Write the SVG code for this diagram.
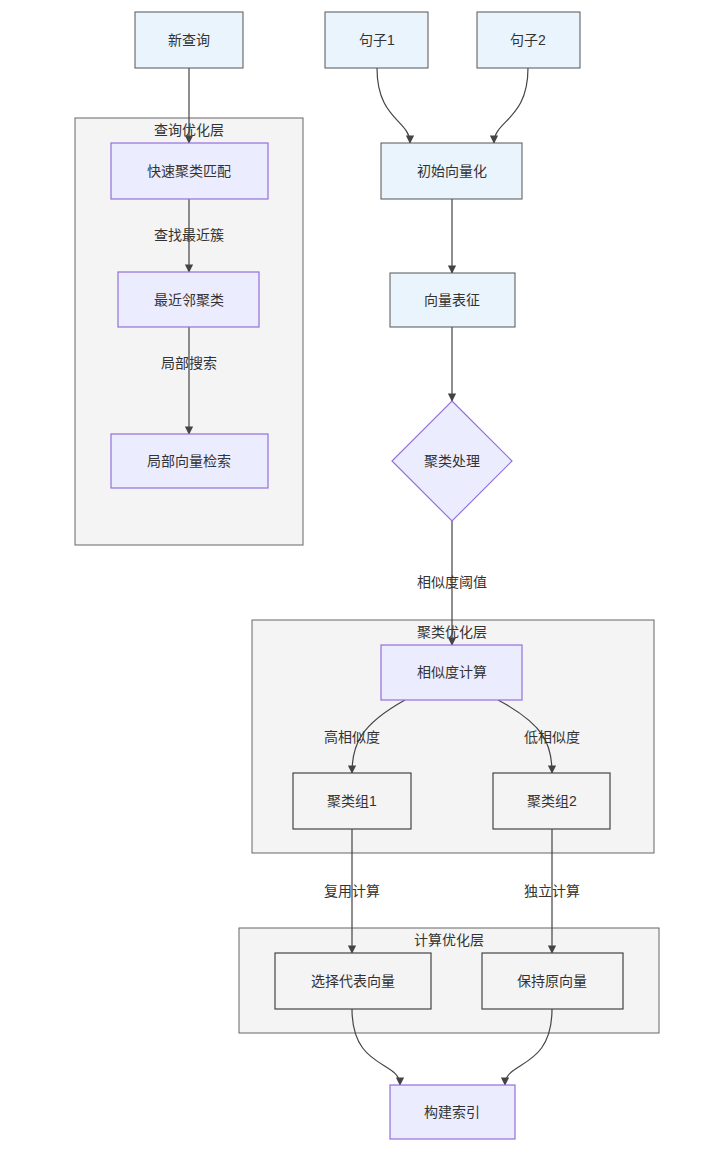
<svg xmlns="http://www.w3.org/2000/svg" width="728" height="1151" viewBox="0 0 728 1151">
<style>
text{font-family:"Liberation Sans","Noto Sans CJK SC",sans-serif;font-size:14px;fill:#333;text-anchor:middle;dominant-baseline:central}
.cl{fill:#f4f4f4;stroke:#666;stroke-width:1}
.b{fill:#eaf4fd;stroke:#555;stroke-width:1}
.p{fill:#ececff;stroke:#9370db;stroke-width:1.2}
.g{fill:#f4f4f4;stroke:#444;stroke-width:1.2}
.e{fill:none;stroke:#444;stroke-width:1.2;marker-end:url(#a)}
</style>
<defs><marker id="a" viewBox="0 0 10 10" refX="9" refY="5" markerWidth="7" markerHeight="7" orient="auto"><path d="M0,0L10,5L0,10z" fill="#444"/></marker></defs>
<g id="c1"><rect class="cl" x="75" y="118" width="228" height="427"/><text x="189" y="130">查询优化层</text></g>
<g id="c2"><rect class="cl" x="252" y="620" width="402" height="233"/><text x="452" y="632">聚类优化层</text></g>
<g id="c3"><rect class="cl" x="239" y="928" width="420" height="105"/><text x="449" y="940">计算优化层</text></g>
<g id="edges">
<path class="e" d="M189,68V143"/>
<path class="e" d="M189,199V272"/>
<path class="e" d="M189,327V434"/>
<path class="e" d="M377,68C377,120 410,120 410,143"/>
<path class="e" d="M528,68C528,120 494,120 494,143"/>
<path class="e" d="M452,199V273"/>
<path class="e" d="M452,327V401"/>
<path class="e" d="M452,521V645"/>
<path class="e" d="M405,700C360,725 352,745 352,773"/>
<path class="e" d="M498,700C545,725 552,745 552,773"/>
<path class="e" d="M352,829V953"/>
<path class="e" d="M552,829V953"/>
<path class="e" d="M352,1009C352,1070 400,1060 400,1085"/>
<path class="e" d="M552,1009C552,1070 505,1060 505,1085"/>
</g>
<g id="lbl">
<text x="189" y="235">查找最近簇</text>
<text x="189" y="363">局部搜索</text>
<text x="452" y="582">相似度阈值</text>
<text x="352" y="737">高相似度</text>
<text x="552" y="737">低相似度</text>
<text x="352" y="891">复用计算</text>
<text x="552" y="891">独立计算</text>
</g>
<g id="n1"><rect class="b" x="135" y="12" width="108" height="56"/><text x="189" y="40">新查询</text></g>
<g id="n2"><rect class="p" x="111" y="143" width="157" height="56"/><text x="189" y="171">快速聚类匹配</text></g>
<g id="n3"><rect class="p" x="118" y="272" width="141" height="55"/><text x="189" y="300">最近邻聚类</text></g>
<g id="n4"><rect class="p" x="111" y="434" width="157" height="54"/><text x="189" y="461">局部向量检索</text></g>
<g id="n5"><rect class="b" x="325" y="12" width="103" height="56"/><text x="377" y="40">句子1</text></g>
<g id="n6"><rect class="b" x="477" y="12" width="103" height="56"/><text x="528" y="40">句子2</text></g>
<g id="n7"><rect class="b" x="381" y="143" width="141" height="56"/><text x="452" y="171">初始向量化</text></g>
<g id="n8"><rect class="b" x="390" y="273" width="125" height="54"/><text x="452" y="300">向量表征</text></g>
<g id="n9"><path class="p" d="M452,401L512,461L452,521L392,461Z"/><text x="452" y="461">聚类处理</text></g>
<g id="n10"><rect class="p" x="381" y="645" width="141" height="55"/><text x="452" y="672">相似度计算</text></g>
<g id="n11"><rect class="g" x="293" y="773" width="118" height="56"/><text x="352" y="801">聚类组1</text></g>
<g id="n12"><rect class="g" x="493" y="773" width="117" height="56"/><text x="552" y="801">聚类组2</text></g>
<g id="n13"><rect class="g" x="275" y="953" width="156" height="56"/><text x="353" y="981">选择代表向量</text></g>
<g id="n14"><rect class="g" x="482" y="953" width="141" height="56"/><text x="552" y="981">保持原向量</text></g>
<g id="n15"><rect class="p" x="390" y="1085" width="125" height="54"/><text x="452" y="1112">构建索引</text></g>
</svg>
